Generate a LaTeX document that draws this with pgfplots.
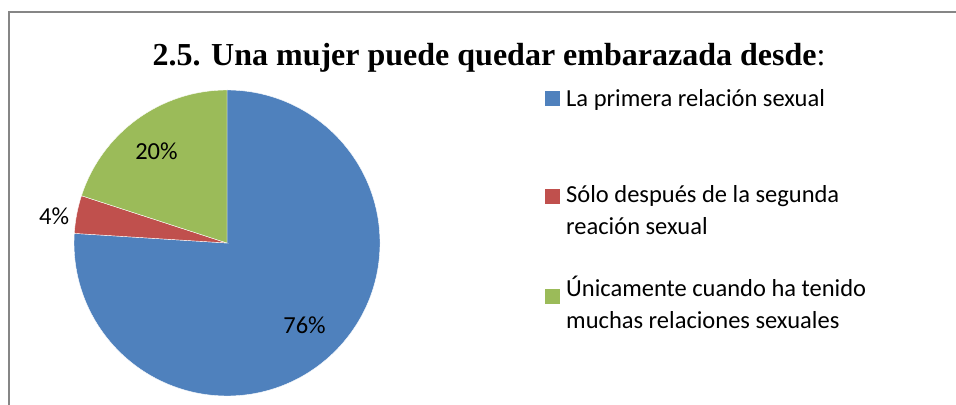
\documentclass[border=0pt]{standalone}
\usepackage{pgfplots}
\pgfplotsset{compat=1.18}
\usepackage{pgfplotstable}
\usepackage{fontspec}
\setmainfont{Carlito}
\newfontfamily\titlefont{Liberation Serif}
\definecolor{sliceblue}{HTML}{4F81BD}
\definecolor{slicered}{HTML}{C0504D}
\definecolor{slicegreen}{HTML}{9BBB59}
\definecolor{framegray}{HTML}{868686}

\pgfplotstableread{
share
76
4
20
}\piedata

\begin{document}
\begin{tikzpicture}
\pgfplotstablegetelem{0}{share}\of\piedata \let\vA\pgfplotsretval
\pgfplotstablegetelem{1}{share}\of\piedata \let\vB\pgfplotsretval
\pgfplotstablegetelem{2}{share}\of\piedata \let\vC\pgfplotsretval
\pgfmathsetmacro\aO{90}
\pgfmathsetmacro\aA{\aO-3.6*\vA}
\pgfmathsetmacro\aB{\aA-3.6*\vB}
\pgfmathsetmacro\aC{\aB-3.6*\vC}
\pgfmathsetmacro\mA{(\aO+\aA)/2}
\pgfmathsetmacro\mB{(\aA+\aB)/2}
\pgfmathsetmacro\mC{(\aB+\aC)/2}
\useasboundingbox (0,0) rectangle (956bp,405bp);
% frame (cropped)
\draw[framegray, line width=1.5bp] (9bp,0) -- (9bp,393bp) -- (960bp,393bp);
% title
\node[anchor=base, inner sep=0pt] at (489bp,339bp)
  {\fontsize{32bp}{36bp}\selectfont\titlefont\textbf{2.5. Una mujer puede quedar embarazada desde}:};
\begin{axis}[hide axis, scale only axis, clip=false,
  x=153bp, y=153bp, xmin=-1, xmax=1, ymin=-1, ymax=1,
  anchor=center, at={(227bp,162bp)}]
\fill[sliceblue, draw=white, line width=0.4bp] (axis cs:0,0) -- (axis cs:{cos(\aO)},{sin(\aO)}) arc[start angle=\aO, end angle=\aA, radius=153bp] -- cycle;
\fill[slicered, draw=white, line width=0.4bp] (axis cs:0,0) -- (axis cs:{cos(\aA)},{sin(\aA)}) arc[start angle=\aA, end angle=\aB, radius=153bp] -- cycle;
\fill[slicegreen, draw=white, line width=0.4bp] (axis cs:0,0) -- (axis cs:{cos(\aB)},{sin(\aB)}) arc[start angle=\aB, end angle=\aC, radius=153bp] -- cycle;
\node[inner sep=0pt, font=\fontsize{24.5bp}{29bp}\selectfont] at (axis cs:{0.74*cos(\mA)},{0.74*sin(\mA)}) {\pgfmathprintnumber[assume math mode=true]{\vA}\%};
\node[inner sep=0pt, font=\fontsize{24.5bp}{29bp}\selectfont] at (axis cs:{1.15*cos(\mB)},{1.15*sin(\mB)-0.04}) {\pgfmathprintnumber[assume math mode=true]{\vB}\%};
\node[inner sep=0pt, font=\fontsize{24.5bp}{29bp}\selectfont] at (axis cs:{0.75*cos(\mC)-0.02},{0.75*sin(\mC)-0.01}) {\pgfmathprintnumber[assume math mode=true]{\vC}\%};
\end{axis}
% legend
\fill[sliceblue] (545bp,299bp) rectangle (560bp,314bp);
\fill[slicered] (545bp,201bp) rectangle (560bp,216bp);
\fill[slicegreen] (545bp,101bp) rectangle (560bp,116bp);
\begin{scope}[every node/.style={anchor=base west, inner sep=0pt, font=\fontsize{24.5bp}{29bp}\selectfont}]
\node at (566bp,298bp) {La primera relación sexual};
\node at (566bp,202bp) {Sólo después de la segunda};
\node at (566bp,170bp) {reación sexual};
\node at (566bp,108bp) {Únicamente cuando ha tenido};
\node at (566bp,76bp) {muchas relaciones sexuales};
\end{scope}
\end{tikzpicture}
\end{document}
